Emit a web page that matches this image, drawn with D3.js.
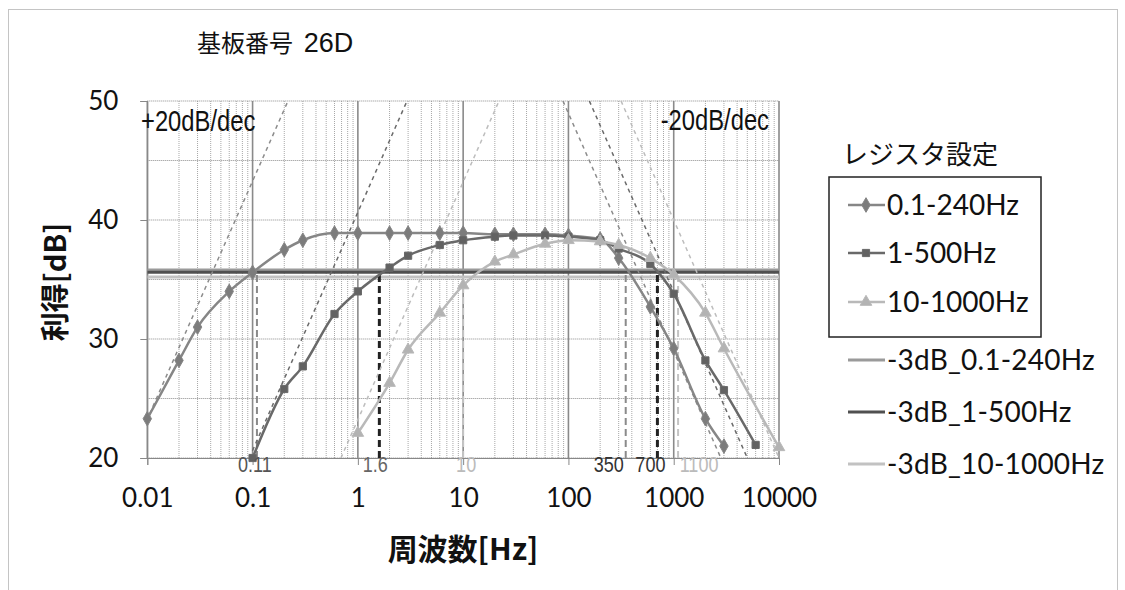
<!DOCTYPE html>
<html><head><meta charset="utf-8">
<script src="https://cdn.jsdelivr.net/npm/d3@7"></script>
<style>body{margin:0;background:#fff} svg{display:block}</style>
</head><body><svg id="c" width="1125" height="590"></svg>
<script>
// ---- data ----
const seriesNames = ["0.1-240Hz", "1-500Hz", "10-1000Hz"];
const cutNames = ["-3dB_0.1-240Hz", "-3dB_1-500Hz", "-3dB_10-1000Hz"];
const freqA = [0.01,0.02,0.03,0.06,0.1,0.2,0.3,0.6,1,2,3,6,10,20,30,60,100,200,300,600,1000,2000,3000];
const gainA = [23.3,28.2,31.0,34.0,35.6,37.5,38.3,38.9,38.9,38.9,38.9,38.9,38.9,38.8,38.8,38.8,38.7,38.4,36.8,32.7,29.2,23.3,21.0];
const freqB = [0.1,0.2,0.3,0.6,1,2,3,6,10,20,30,60,100,200,300,600,1000,2000,3000,6000];
const gainB = [20.0,25.8,27.7,32.1,34.0,36.0,37.0,37.9,38.3,38.6,38.7,38.7,38.6,38.3,37.6,36.3,33.8,28.2,25.7,21.1];
const freqC = [1,2,3,6,10,20,30,60,100,200,300,600,1000,2000,3000,10000];
const gainC = [22.1,26.3,29.1,32.2,34.5,36.5,37.1,38.0,38.3,38.2,37.9,36.8,35.4,32.2,29.2,20.9];
const cutLevels = [35.8, 35.6, 35.2];          // -3dB levels
const lowCuts = [0.11, 1.6, 10];                // lower -3dB frequencies
const highCuts = [350, 700, 1100];              // upper -3dB frequencies
const lowCutLabels = ["0.11", "1.6", "10"];
const highCutLabels = ["350", "700", "1100"];
const riseFreq20 = [0.00687, 0.093, 0.69];      // +20dB/dec asymptote: f at 20 dB
const riseFreq50 = [0.217, 2.93, 21.9];         //                       f at 50 dB
const fallFreq50 = [88.7, 158, 316];            // -20dB/dec asymptote: f at 50 dB
const fallFreq20 = [2805, 5000, 10000];         //                       f at 20 dB
const xTicks = [0.01, 0.1, 1, 10, 100, 1000, 10000];
const xTickLabels = ["0.01", "0.1", "1", "10", "100", "1000", "10000"];
const yTicks = [20, 30, 40, 50];

// ---- styles ----
const serCol = ["#868686", "#696969", "#b9b9b9"];
const mkCol = ["#7c7c7c", "#626262", "#b3b3b3"];
const cutCol = ["#9a9a9a", "#505050", "#c2c2c2"];
const vCol = ["#8a8a8a", "#222222", "#c4c4c4"];
const vW = [2, 3, 2];
const asymCol = ["#8c8c8c", "#6a6a6a", "#bdbdbd"];
const lowLabCol = ["#555", "#666", "#bbb"];
const highLabCol = ["#333", "#333", "#bbb"];
const lowLabDx = [-2, -4, 3];
const highLabDx = [-17, -7, 21];
const symbols = [d3.symbolDiamond, d3.symbolSquare, d3.symbolTriangle];
const symSize = [62, 52, 58];
const numFont = "Lato, 'Open Sans', sans-serif";
const narrowFont = "'Liberation Sans', Arial, sans-serif";
const cjk = "'Noto Sans CJK JP', 'Noto Sans CJK SC', sans-serif";

const svg = d3.select("#c");
const x = d3.scaleLog().domain([0.01, 10000]).range([147.3, 779]);
const y = d3.scaleLinear().domain([20, 50]).range([458, 101]);
const [x0, x1] = x.range(), [y0, y1] = [y(20), y(50)];

function narrowText(px, py, txt, size, anchor, fill) {
  return svg.append("g").attr("transform", `translate(${px},${py}) scale(0.82,1)`)
    .append("text").attr("text-anchor", anchor).attr("font-family", narrowFont)
    .attr("font-size", size).attr("fill", fill).text(txt);
}

// outer frame
svg.append("rect").attr("x", 8.5).attr("y", 9.5).attr("width", 1109).attr("height", 600)
  .attr("fill", "none").attr("stroke", "#888").attr("stroke-width", 1).attr("stroke-dasharray", "1,1");

svg.append("defs").append("clipPath").attr("id", "pc")
  .append("rect").attr("x", x0).attr("y", y1).attr("width", x1 - x0).attr("height", y0 - y1);

// grid
const g = svg.append("g");
const minor = [];
for (let e = -2; e <= 3; e++) for (let k = 2; k <= 9; k++) minor.push(k * Math.pow(10, e));
g.selectAll(".vm").data(minor).join("line")
  .attr("x1", d => x(d)).attr("x2", d => x(d)).attr("y1", y1).attr("y2", y0)
  .attr("stroke", "#a8a8a8").attr("stroke-width", 1).attr("stroke-dasharray", "1,1");
g.selectAll(".vM").data(xTicks).join("line")
  .attr("x1", d => x(d)).attr("x2", d => x(d)).attr("y1", y1).attr("y2", y0)
  .attr("stroke", "#8a8a8a").attr("stroke-width", 1.6);
g.selectAll(".h").data(d3.range(20, 51, 5)).join("line")
  .attr("x1", x0).attr("x2", x1).attr("y1", d => y(d)).attr("y2", d => y(d))
  .attr("stroke", "#8c8c8c").attr("stroke-width", 1.2).attr("stroke-dasharray", "1,1");

// axes
const xAxis = svg.append("g").attr("transform", `translate(0,${y0})`)
  .call(d3.axisBottom(x).tickValues(xTicks).tickFormat((d, i) => xTickLabels[i]).tickSize(7).tickPadding(24));
xAxis.select(".domain").attr("stroke", "#888");
xAxis.selectAll(".tick line").attr("stroke", "#888");
xAxis.selectAll("text").attr("font-family", numFont).attr("font-size", 26).attr("fill", "#111");
const yAxis = svg.append("g").attr("transform", `translate(${x0},0)`)
  .call(d3.axisLeft(y).tickValues(yTicks).tickSize(7).tickPadding(22));
yAxis.select(".domain").attr("stroke", "#888");
yAxis.selectAll(".tick line").attr("stroke", "#888");
yAxis.selectAll("text").attr("font-family", numFont).attr("font-size", 26).attr("fill", "#111");

const plot = svg.append("g").attr("clip-path", "url(#pc)");

// -3dB horizontal lines
plot.selectAll(".cut").data(cutLevels).join("line")
  .attr("x1", x0).attr("x2", x1).attr("y1", d => y(d)).attr("y2", d => y(d))
  .attr("stroke", (d, i) => cutCol[i]).attr("stroke-width", 3);

// vertical dashed cutoff lines
const vdata = [];
lowCuts.forEach((f, i) => vdata.push({f, i}));
highCuts.forEach((f, i) => vdata.push({f, i}));
plot.selectAll(".vc").data(vdata).join("line")
  .attr("x1", d => x(d.f)).attr("x2", d => x(d.f)).attr("y1", y0).attr("y2", d => y(cutLevels[d.i]))
  .attr("stroke", d => vCol[d.i]).attr("stroke-width", d => vW[d.i]).attr("stroke-dasharray", "7,4");

// asymptotes
riseFreq20.forEach((f, i) => {
  plot.append("line").attr("x1", x(f)).attr("y1", y(20)).attr("x2", x(riseFreq50[i])).attr("y2", y(50))
    .attr("stroke", asymCol[i]).attr("stroke-width", 1.5).attr("stroke-dasharray", "4,4");
});
fallFreq50.forEach((f, i) => {
  plot.append("line").attr("x1", x(f)).attr("y1", y(50)).attr("x2", x(fallFreq20[i])).attr("y2", y(20))
    .attr("stroke", asymCol[i]).attr("stroke-width", 1.5).attr("stroke-dasharray", "4,4");
});

// series
const series = [[freqA, gainA], [freqB, gainB], [freqC, gainC]];
const line = d3.line().x(d => x(d[0])).y(d => y(d[1])).curve(d3.curveMonotoneX);
series.forEach(([fs, gs], i) => {
  const pts = fs.map((f, j) => [f, gs[j]]);
  svg.append("path").datum(pts).attr("d", line).attr("fill", "none")
    .attr("stroke", serCol[i]).attr("stroke-width", 2.5);
  svg.selectAll(".m" + i).data(pts).join("path")
    .attr("transform", d => `translate(${x(d[0])},${y(d[1])})`)
    .attr("d", d3.symbol().type(symbols[i]).size(symSize[i]))
    .attr("fill", mkCol[i]).attr("stroke", serCol[i]).attr("stroke-width", 1);
});

// cut labels
lowCuts.forEach((f, i) => narrowText(x(f) + lowLabDx[i], 472, lowCutLabels[i], 22, "middle", lowLabCol[i]));
highCuts.forEach((f, i) => narrowText(x(f) + highLabDx[i], 472, highCutLabels[i], 22, "middle", highLabCol[i]));

// slope annotations
narrowText(141, 131, "+20dB/dec", 29, "start", "#111");
narrowText(769, 130, "-20dB/dec", 29, "end", "#111");

// titles
svg.append("text").attr("x", 197).attr("y", 52).attr("font-family", cjk).attr("font-size", 24)
  .attr("fill", "#111").attr("xml:space", "preserve").text("基板番号  ")
  .append("tspan").attr("font-family", "'Liberation Sans', Arial, sans-serif").attr("font-size", 27).text("26D");
svg.append("text").attr("transform", "translate(66,282) rotate(-90)").attr("text-anchor", "middle")
  .attr("font-family", cjk).attr("font-weight", "bold").attr("font-size", 29).attr("fill", "#111").text("利得[dB]");
svg.append("text").attr("x", 463).attr("y", 560).attr("text-anchor", "middle")
  .attr("font-family", cjk).attr("font-weight", "bold").attr("font-size", 30).attr("fill", "#111").text("周波数[Hz]");

// legend
svg.append("text").attr("x", 842).attr("y", 164).attr("font-family", cjk).attr("font-size", 26)
  .attr("fill", "#111").text("レジスタ設定");
svg.append("rect").attr("x", 829).attr("y", 177).attr("width", 212).attr("height", 160)
  .attr("fill", "none").attr("stroke", "#222").attr("stroke-width", 1.5);
const legY = [205, 253, 302, 360, 412, 464];
seriesNames.forEach((n, i) => {
  const yy = legY[i];
  svg.append("line").attr("x1", 848).attr("x2", 885).attr("y1", yy).attr("y2", yy)
    .attr("stroke", serCol[i]).attr("stroke-width", 2.5);
  svg.append("path").attr("transform", `translate(866,${yy})`)
    .attr("d", d3.symbol().type(symbols[i]).size(symSize[i])).attr("fill", mkCol[i]).attr("stroke", serCol[i]);
  svg.append("text").attr("x", 887).attr("y", yy + 10).attr("font-family", numFont).attr("font-size", 28)
    .attr("fill", "#111").text(n);
});
cutNames.forEach((n, i) => {
  const yy = legY[i + 3];
  svg.append("line").attr("x1", 848).attr("x2", 885).attr("y1", yy).attr("y2", yy)
    .attr("stroke", cutCol[i]).attr("stroke-width", 3);
  svg.append("text").attr("x", 887).attr("y", yy + 10).attr("font-family", numFont).attr("font-size", 28)
    .attr("letter-spacing", 0.2).attr("fill", "#111").text(n);
});
</script></body></html>
